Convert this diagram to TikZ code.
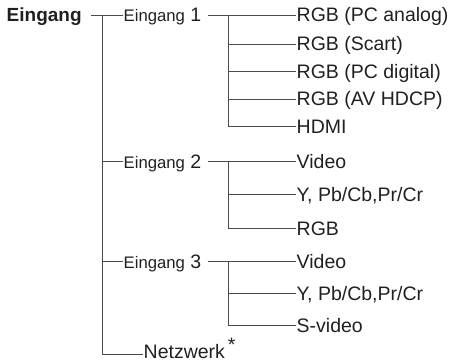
\documentclass[tikz,border=0pt]{standalone}
\usepackage{fontspec}
\setmainfont{Liberation Sans}
\definecolor{txt}{HTML}{231F20}
\definecolor{ln}{HTML}{4A4A4A}
\begin{document}
\begin{tikzpicture}[x=1pt,y=-1pt,
  lbl/.style={anchor=west,inner xsep=0.5pt,inner ysep=0pt,text height=14pt,text depth=0pt,text=txt,font=\fontsize{19.5}{20}\selectfont},
  sub/.style={lbl},
  conn/.style={draw=ln,line width=0.9pt}]
\useasboundingbox (0,0) rectangle (450,361);
% root
\node[lbl,font=\fontsize{19}{20}\selectfont\bfseries] (root) at (6,15) {Eingang};
% level 1
\node[sub] (e1) at (123,15) {{\fontsize{16.7}{18}\selectfont Eingang} 1};
\node[sub] (e2) at (123,161) {{\fontsize{16.7}{18}\selectfont Eingang} 2};
\node[sub] (e3) at (123,261) {{\fontsize{16.7}{18}\selectfont Eingang} 3};
\node[lbl,anchor=base west,text height=20pt] (nw) at (143,358) {Netzwerk\hspace{3pt}\raisebox{7pt}{*}};
% leaves
\node[lbl] (a1) at (296,15) {RGB (PC analog)};
\node[lbl] (a2) at (296,44) {RGB (Scart)};
\node[lbl] (a3) at (296,71) {RGB (PC digital)};
\node[lbl] (a4) at (296,99) {RGB (AV HDCP)};
\node[lbl] (a5) at (296,126) {HDMI};
\node[lbl] (b1) at (296,161) {Video};
\node[lbl] (b2) at (296,194) {Y, Pb/Cb,Pr/Cr};
\node[lbl] (b3) at (296,228) {RGB};
\node[lbl] (c1) at (296,261) {Video};
\node[lbl] (c2) at (296,293) {Y, Pb/Cb,Pr/Cr};
\node[lbl] (c3) at (296,325) {S-video};
% coordinates
\coordinate (rs) at (91,15);
\coordinate (t0) at (102,15);
\coordinate (t2) at (102,161);
\coordinate (t3) at (102,261);
\coordinate (tn) at (102,354.5);
\coordinate (nwj) at (143,354.5);
\coordinate (e1s) at (208,15);
\coordinate (e2s) at (208,161);
\coordinate (e3s) at (208,261);
% main trunk
\draw[conn] (rs) -- (e1.west);
\draw[conn] (t0) -- (tn) -- (nwj);
\draw[conn] (t2) -- (e2.west);
\draw[conn] (t3) -- (e3.west);
% Eingang 1
\draw[conn] (e1s) -- (a1.west);
\draw[conn] (228,15) |- (a5.west);
\draw[conn] (228,44) -- (a2.west);
\draw[conn] (228,71) -- (a3.west);
\draw[conn] (228,99) -- (a4.west);
% Eingang 2
\draw[conn] (e2s) -- (b1.west);
\draw[conn] (228,161) |- (b3.west);
\draw[conn] (228,194) -- (b2.west);
% Eingang 3
\draw[conn] (e3s) -- (c1.west);
\draw[conn] (228,261) |- (c3.west);
\draw[conn] (228,293) -- (c2.west);
\end{tikzpicture}
\end{document}
